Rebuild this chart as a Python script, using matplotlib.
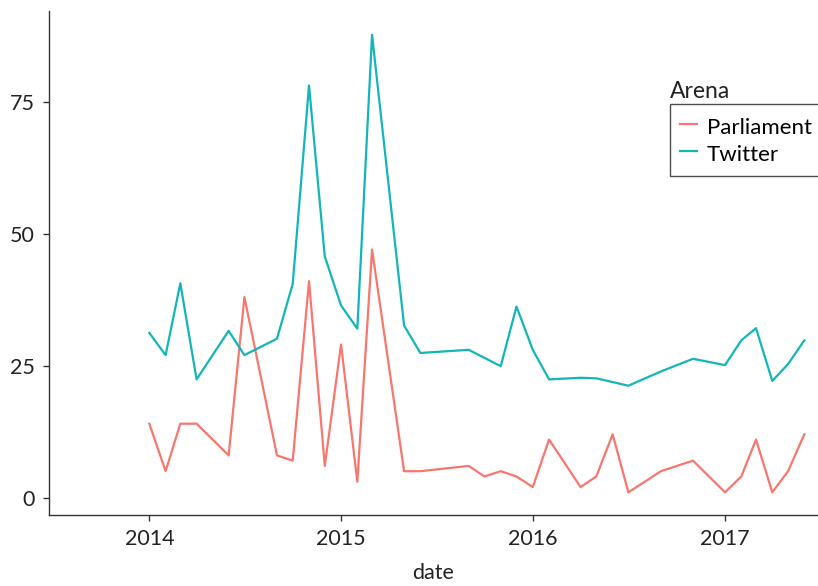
import matplotlib
matplotlib.use("Agg")
import matplotlib.pyplot as plt
import matplotlib.dates as mdates
import pandas as pd

plt.rcParams['font.family'] = ['Lato', 'DejaVu Sans']

# monthly counts per arena
parl_dates = ["2014-01", "2014-02", "2014-03", "2014-04", "2014-06", "2014-07",
              "2014-09", "2014-10", "2014-11", "2014-12", "2015-01", "2015-02",
              "2015-03", "2015-05", "2015-06", "2015-09", "2015-10", "2015-11",
              "2015-12", "2016-01", "2016-02", "2016-04", "2016-05", "2016-06",
              "2016-07", "2016-09", "2016-11", "2017-01", "2017-02", "2017-03",
              "2017-04", "2017-05", "2017-06"]
parl_vals = [14, 5, 14, 14, 8, 38, 8, 7, 41, 6, 29, 3, 47, 5, 5, 6, 4, 5, 4,
             2, 11, 2, 4, 12, 1, 5, 7, 1, 4, 11, 1, 5, 12]

tw_dates = ["2014-01", "2014-02", "2014-03", "2014-04", "2014-06", "2014-07",
            "2014-09", "2014-10", "2014-11", "2014-12", "2015-01", "2015-02",
            "2015-03", "2015-05", "2015-06", "2015-09", "2015-11", "2015-12",
            "2016-01", "2016-02", "2016-04", "2016-05", "2016-07", "2016-09",
            "2016-11", "2017-01", "2017-02", "2017-03", "2017-04", "2017-05",
            "2017-06"]
tw_vals = [31.2, 27.0, 40.6, 22.4, 31.6, 27.0, 30.1, 40.5, 78.1, 45.7, 36.4,
           32.0, 87.7, 32.6, 27.4, 28.0, 24.9, 36.2, 28.0, 22.4, 22.7, 22.6,
           21.2, 23.9, 26.3, 25.1, 29.8, 32.1, 22.1, 25.3, 29.8]

fig = plt.figure(figsize=(8.18, 5.86), dpi=100)
ax = fig.add_axes([49/818, 1 - 515/586, 1 - 49/818, (515 - 11)/586])

l1, = ax.plot(pd.to_datetime(parl_dates), parl_vals, color="#F8766D", lw=1.6)
l2, = ax.plot(pd.to_datetime(tw_dates), tw_vals, color="#12b6b9", lw=1.6)

ax.set_xlim(pd.Timestamp("2013-06-24"), pd.Timestamp("2017-06-27"))
ax.set_ylim(-3.3, 92.2)
ax.set_yticks([0, 25, 50, 75])
ax.xaxis.set_major_locator(mdates.YearLocator())
ax.xaxis.set_major_formatter(mdates.DateFormatter("%Y"))

for s in ["top", "right"]:
    ax.spines[s].set_visible(False)
for s in ["left", "bottom"]:
    ax.spines[s].set_color("#333333")
    ax.spines[s].set_linewidth(1.0)
ax.tick_params(length=4, width=1, color="#333333", labelcolor="#222222",
               labelsize=15.5, pad=6)
ax.set_xlabel("date", fontsize=15.5, color="#222222", labelpad=10)

leg = fig.legend([l1, l2], ["Parliament", "Twitter"], loc="upper left",
                 bbox_to_anchor=(670/818, 1 - 104/586), fontsize=16,
                 frameon=True, fancybox=False, handlelength=0.75,
                 handleheight=1.3, handletextpad=0.45, borderpad=0.45,
                 labelspacing=0.15, borderaxespad=0)
leg.get_frame().set_edgecolor("#222222")
leg.get_frame().set_linewidth(1.0)
fig.text(670/818, 1 - 98/586, "Arena", fontsize=16.5, color="#222222",
         ha="left", va="baseline")

fig.savefig("out.png", dpi=100)
